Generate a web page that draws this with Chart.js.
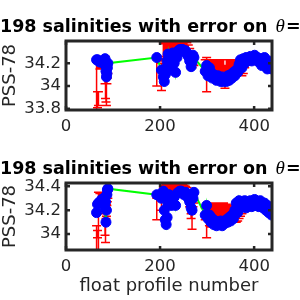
<!DOCTYPE html>
<html>
<head>
<meta charset="utf-8">
<script src="https://cdn.jsdelivr.net/npm/chart.js@4"></script>
<style>
    html, body { margin: 0; padding: 0; background: #fff; }
    #wrap { position: relative; width: 300px; height: 300px; overflow: hidden; }
    canvas { position: absolute; left: 0; }
</style>
</head>
<body>
<div id="wrap">
    <canvas id="topChart" width="300" height="150" style="top:0"></canvas>
    <canvas id="botChart" width="300" height="150" style="top:150px"></canvas>
</div>
<script>
// float profile numbers (shared by both panels)
const profiles = [
    65, 67, 69, 72, 76, 80, 83, 84, 85, 86, 87, 88, 89,
    193, 203, 207, 209, 211, 213, 215, 217, 219, 221, 224, 227, 230, 233, 236, 239, 242, 245, 248, 251, 254, 257, 260, 263, 266, 268, 270, 272,
    296, 299, 302, 305, 308, 311, 314, 317, 320, 323, 326, 329, 332, 335, 338, 341, 344, 347, 350, 353, 356, 359, 362, 365, 368, 371, 374, 377, 380,
    383, 386, 389, 392, 395, 398, 401, 404, 407, 410, 413, 416, 419, 422, 425, 428, 431, 434, 437
];
const xTicks = [0, 200, 400];

// upper panel
const salTop = [
    34.23, 34.23, 34.22, 34.21, 34.21, 34.22, 34.24, 34.18, 34.13, 34.08, 34.11, 34.16, 34.20,
    34.25, 34.14, 34.08, 34.04, 34.10, 34.16, 34.22, 34.28, 34.20, 34.14, 34.24, 34.29, 34.20, 34.12, 34.25, 34.31, 34.32, 34.32, 34.32, 34.30, 34.31, 34.29, 34.26, 34.22, 34.17, 34.21, 34.27, 34.25,
    34.13, 34.18, 34.09, 34.16, 34.12, 34.07, 34.10, 34.08, 34.05, 34.09, 34.06, 34.04, 34.08, 34.04, 34.07, 34.04, 34.09, 34.05, 34.10, 34.07, 34.12, 34.09, 34.14, 34.12, 34.19, 34.23, 34.16, 34.24, 34.20,
    34.25, 34.22, 34.24, 34.26, 34.22, 34.25, 34.27, 34.23, 34.25, 34.21, 34.24, 34.18, 34.23, 34.25, 34.20, 34.15, 34.22, 34.17, 34.15
];
const mapTop = [
    34.00, 33.88, 33.89, 34.18, 34.19, 34.20, 34.14, 34.03, 33.99, 33.98, 34.10, 34.13, 34.16,
    34.12, 34.08, 34.30, 34.30, 34.31, 34.32, 34.33, 34.34, 34.34, 34.34, 34.35, 34.35, 34.36, 34.36, 34.36, 34.37, 34.37, 34.37, 34.36, 34.36, 34.35, 34.34, 34.32, 34.28, 34.25, 34.22, 34.24, 34.22,
    34.18, 34.10, 34.18, 34.18, 34.18, 34.18, 34.18, 34.18, 34.17, 34.17, 34.17, 34.17, 34.18, 34.18, 34.08, 34.18, 34.18, 34.18, 34.18, 34.18, 34.17, 34.17, 34.16, 34.16, 34.16, 34.16, 34.16, 34.17, 34.20,
    34.22, 34.22, 34.23, 34.23, 34.23, 34.23, 34.23, 34.23, 34.22, 34.22, 34.22, 34.21, 34.21, 34.21, 34.20, 34.20, 34.20, 34.19, 34.19
];
const errTop = [
    0.21, 0.07, 0.06, 0.03, 0.03, 0.03, 0.12, 0.14, 0.13, 0.15, 0.08, 0.06, 0.05,
    0.12, 0.12, 0.08, 0.07, 0.07, 0.06, 0.06, 0.05, 0.05, 0.05, 0.05, 0.05, 0.04, 0.04, 0.04, 0.04, 0.04, 0.04, 0.04, 0.04, 0.04, 0.04, 0.04, 0.05, 0.05, 0.06, 0.05, 0.04,
    0.05, 0.15, 0.05, 0.05, 0.05, 0.05, 0.05, 0.05, 0.06, 0.06, 0.06, 0.06, 0.05, 0.05, 0.10, 0.05, 0.05, 0.05, 0.05, 0.05, 0.06, 0.06, 0.07, 0.07, 0.07, 0.07, 0.07, 0.06, 0.04,
    0.03, 0.03, 0.03, 0.03, 0.03, 0.03, 0.03, 0.03, 0.03, 0.03, 0.03, 0.03, 0.03, 0.03, 0.03, 0.02, 0.02, 0.02, 0.02
];
const yTicksTop = [33.8, 34, 34.2];

// lower panel
const salBot = [
    34.18, 34.25, 34.26, 34.27, 34.29, 34.30, 34.22, 34.27, 34.10, 34.20, 34.33, 34.37, 34.38,
    34.33, 34.30, 34.36, 34.20, 34.12, 34.08, 34.14, 34.25, 34.33, 34.29, 34.24, 34.27, 34.31, 34.24, 34.34, 34.35, 34.36, 34.36, 34.35, 34.33, 34.35, 34.34, 34.30, 34.27, 34.22, 34.20, 34.30, 34.35,
    34.16, 34.24, 34.13, 34.16, 34.10, 34.13, 34.08, 34.11, 34.07, 34.10, 34.08, 34.11, 34.07, 34.10, 34.09, 34.12, 34.10, 34.14, 34.11, 34.16, 34.13, 34.20, 34.26, 34.18, 34.28, 34.22, 34.27, 34.24, 34.28,
    34.22, 34.27, 34.25, 34.28, 34.23, 34.27, 34.29, 34.24, 34.27, 34.23, 34.28, 34.25, 34.22, 34.26, 34.20, 34.24, 34.18, 34.21, 34.16
];
const mapBot = [
    33.96, 34.00, 34.10, 34.30, 34.31, 34.26, 34.14, 34.07, 34.17, 34.20, 34.27, 34.30, 34.33,
    34.21, 34.25, 34.33, 34.35, 34.36, 34.37, 34.38, 34.38, 34.38, 34.38, 34.38, 34.38, 34.38, 34.38, 34.39, 34.39, 34.39, 34.39, 34.38, 34.37, 34.36, 34.35, 34.33, 34.28, 34.15, 34.12, 34.28, 34.30,
    34.17, 34.10, 34.18, 34.16, 34.16, 34.16, 34.16, 34.16, 34.16, 34.16, 34.16, 34.16, 34.16, 34.16, 34.16, 34.16, 34.16, 34.17, 34.18, 34.18, 34.17, 34.17, 34.17, 34.18, 34.19, 34.20, 34.21, 34.22, 34.23,
    34.23, 34.23, 34.23, 34.23, 34.23, 34.23, 34.23, 34.23, 34.23, 34.23, 34.23, 34.23, 34.23, 34.23, 34.23, 34.21, 34.21, 34.20, 34.20
];
const errBot = [
    0.11, 0.03, 0.25, 0.04, 0.04, 0.09, 0.15, 0.14, 0.04, 0.05, 0.03, 0.03, 0.03,
    0.09, 0.05, 0.06, 0.05, 0.05, 0.05, 0.04, 0.04, 0.04, 0.04, 0.04, 0.04, 0.04, 0.04, 0.04, 0.04, 0.04, 0.04, 0.04, 0.04, 0.04, 0.04, 0.04, 0.05, 0.02, 0.08, 0.05, 0.04,
    0.05, 0.13, 0.05, 0.09, 0.10, 0.10, 0.10, 0.10, 0.10, 0.10, 0.10, 0.10, 0.10, 0.10, 0.09, 0.09, 0.08, 0.07, 0.06, 0.06, 0.07, 0.07, 0.07, 0.07, 0.06, 0.05, 0.04, 0.03, 0.03,
    0.03, 0.03, 0.03, 0.03, 0.03, 0.03, 0.03, 0.03, 0.03, 0.03, 0.03, 0.03, 0.03, 0.03, 0.03, 0.02, 0.02, 0.02, 0.02
];
const yTicksBot = [34, 34.2, 34.4];

const titleText = "198 salinities with error on ";
const axisColor = "#262626";

// red error bars, drawn under the line and markers
const errorBars = {
    id: "errorBars",
    beforeDatasetsDraw(chart) {
        const {ctx, chartArea, scales: {x, y}} = chart;
        const ds = chart.data.datasets[1];
        ctx.save();
        ctx.beginPath();
        ctx.rect(chartArea.left, chartArea.top, chartArea.right - chartArea.left, chartArea.bottom - chartArea.top);
        ctx.clip();
        ctx.strokeStyle = "#ff0000";
        ctx.lineWidth = 1.5;
        ctx.beginPath();
        ds.mapped.forEach((m, i) => {
            const px = x.getPixelForValue(profiles[i]);
            const hi = y.getPixelForValue(m + ds.err[i]);
            const lo = y.getPixelForValue(m - ds.err[i]);
            ctx.moveTo(px, hi); ctx.lineTo(px, lo);
            ctx.moveTo(px - 4.5, hi); ctx.lineTo(px + 4.5, hi);
            ctx.moveTo(px - 4.5, lo); ctx.lineTo(px + 4.5, lo);
        });
        ctx.stroke();
        ctx.restore();
    }
};

// matlab style box with inward ticks
const frame = {
    id: "frame",
    afterDatasetsDraw(chart) {
        const {ctx, chartArea: a, scales: {x, y}} = chart;
        ctx.save();
        ctx.strokeStyle = axisColor;
        ctx.lineWidth = 2.5;
        ctx.beginPath();
        x.ticks.forEach(t => {
            const px = x.getPixelForValue(t.value);
            ctx.moveTo(px, a.bottom); ctx.lineTo(px, a.bottom - 4);
            ctx.moveTo(px, a.top); ctx.lineTo(px, a.top + 4);
        });
        y.ticks.forEach(t => {
            const py = y.getPixelForValue(t.value);
            ctx.moveTo(a.left, py); ctx.lineTo(a.left + 4, py);
            ctx.moveTo(a.right, py); ctx.lineTo(a.right - 4, py);
        });
        ctx.stroke();
        ctx.lineWidth = 3;
        ctx.strokeRect(a.left, a.top, a.right - a.left, a.bottom - a.top);
        ctx.restore();
    }
};

const panelTitle = {
    id: "panelTitle",
    afterDraw(chart, args, opts) {
        const ctx = chart.ctx;
        ctx.save();
        ctx.fillStyle = "#000";
        ctx.textBaseline = "middle";
        ctx.textAlign = "left";
        ctx.font = "bold 17.5px 'DejaVu Sans'";
        ctx.fillText(titleText, 0, opts.y);
        let w = ctx.measureText(titleText).width;
        ctx.font = "italic 19px 'Liberation Serif'";
        ctx.fillText("\u03b8", w + 2, opts.y);
        w += ctx.measureText("\u03b8").width + 3;
        ctx.font = "bold 17.5px 'DejaVu Sans'";
        ctx.fillText("=", w, opts.y);
        ctx.restore();
    }
};

function makePanel(id, sal, mapped, err, yMin, yMax, yTicks, padTop, xHeight, titleY, showXTitle) {
    const tickFont = {family: "DejaVu Sans", size: 16.5};
    const points = profiles.map((p, i) => ({x: p, y: sal[i]}));

    return new Chart(document.getElementById(id), {
        type: "scatter",
        data: {
            datasets: [
                {
                    type: "line",
                    data: points,
                    borderColor: "#00ff00",
                    borderWidth: 2,
                    pointRadius: 0,
                    fill: false,
                    tension: 0,
                    clip: 0,
                    order: 2
                },
                {
                    type: "scatter",
                    data: points,
                    mapped: mapped,
                    err: err,
                    pointRadius: 5,
                    borderWidth: 1,
                    backgroundColor: "#0000ff",
                    borderColor: "#0000ff",
                    clip: 0,
                    order: 1
                }
            ]
        },
        options: {
            responsive: false,
            animation: false,
            devicePixelRatio: 1,
            layout: {padding: {left: 0, top: padTop, right: 28, bottom: 0}},
            plugins: {
                legend: {display: false},
                tooltip: {enabled: false},
                panelTitle: {y: titleY}
            },
            scales: {
                x: {
                    type: "linear",
                    min: 0,
                    max: 438,
                    afterBuildTicks: s => { s.ticks = xTicks.map(v => ({value: v})); },
                    afterFit: s => { s.height = xHeight; },
                    grid: {display: false, drawTicks: false},
                    border: {display: false},
                    ticks: {color: axisColor, font: tickFont, padding: 7, maxRotation: 0, autoSkip: false},
                    title: {
                        display: showXTitle,
                        text: "float profile number",
                        color: axisColor,
                        font: {family: "DejaVu Sans", size: 18},
                        padding: {top: 0, bottom: 2.5}
                    }
                },
                y: {
                    type: "linear",
                    min: yMin,
                    max: yMax,
                    afterBuildTicks: s => { s.ticks = yTicks.map(v => ({value: v})); },
                    afterFit: s => { s.width = 66; },
                    grid: {display: false, drawTicks: false},
                    border: {display: false},
                    ticks: {
                        color: axisColor,
                        font: tickFont,
                        padding: 5,
                        autoSkip: false,
                        callback: v => String(Math.round(v * 10) / 10)
                    },
                    title: {
                        display: true,
                        text: "PSS-78",
                        color: axisColor,
                        font: {family: "DejaVu Sans", size: 18, lineHeight: 1.1},
                        padding: {top: 0, bottom: 0}
                    }
                }
            }
        },
        plugins: [errorBars, frame, panelTitle]
    });
}

makePanel("topChart", salTop, mapTop, errTop, 33.79, 34.395, yTicksTop, 41, 40, 27, false);
makePanel("botChart", salBot, mapBot, errBot, 33.867, 34.428, yTicksBot, 33, 50, 19, true);
</script>
</body>
</html>
